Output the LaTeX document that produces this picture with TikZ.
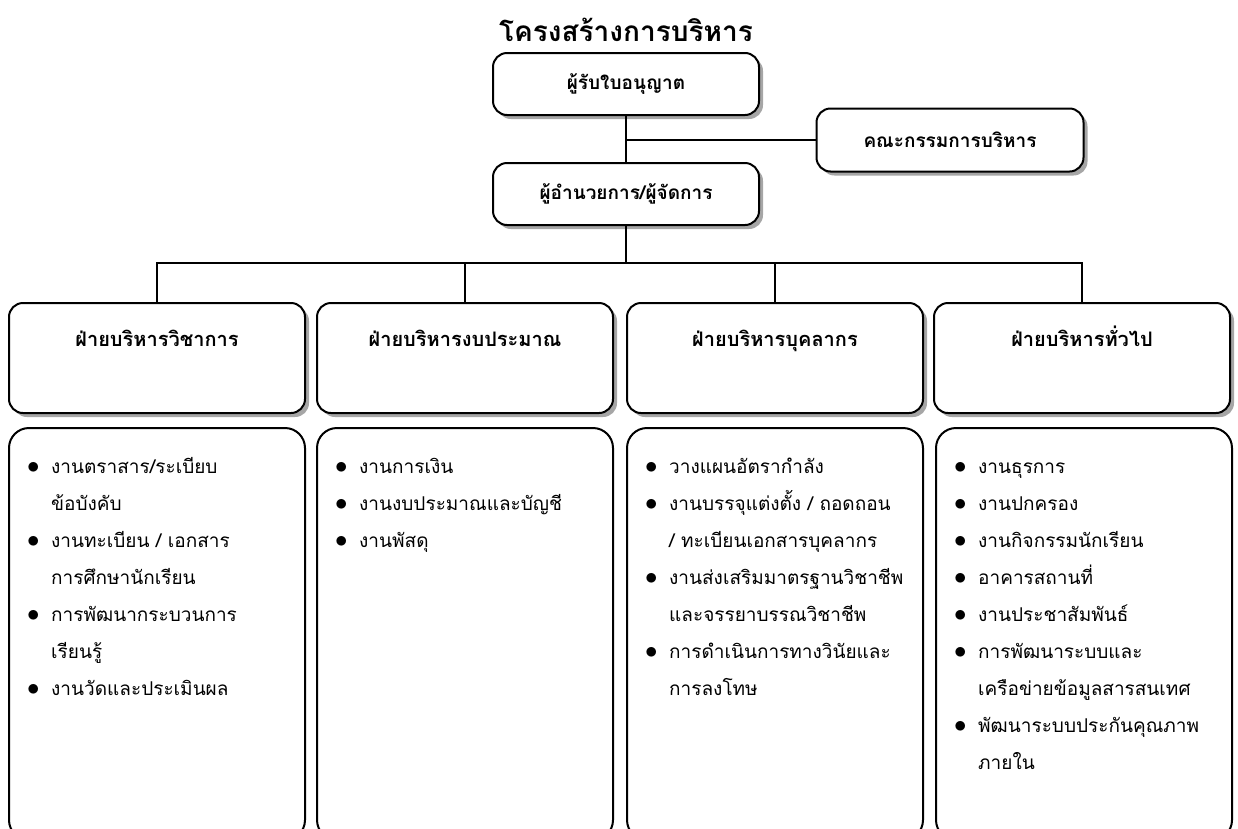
\documentclass[tikz,border=0pt]{standalone}
\usepackage{fontspec}
\setmainfont[Script=Thai]{Loma}
\usetikzlibrary{positioning,shadows}

\newcommand{\bul}{\makebox[24pt][l]{\fontsize{24}{24}\selectfont$\bullet$}}

\begin{document}
\begin{tikzpicture}[x=1pt, y=-1pt,
    box/.style = {draw, line width=2pt, rounded corners=14pt, fill=white,
        drop shadow={shadow xshift=4pt, shadow yshift=-4pt, fill=gray!70, opacity=1},
        font=\fontsize{19}{22}\selectfont\bfseries},
    topbox/.style = {box, minimum width=266pt, minimum height=62pt},
    divbox/.style = {box, minimum width=296pt, minimum height=110pt},
    listbox/.style = {draw, line width=2pt, rounded corners=20pt, minimum width=296pt,
        minimum height=412pt, anchor=north},
    head/.style = {inner sep=0pt, anchor=base, font=\fontsize{20}{24}\selectfont\bfseries},
    items/.style = {inner sep=0pt, align=left, font=\fontsize{19}{37}\selectfont}]
    \useasboundingbox (0,0) rectangle (1238,828);
    % title
    \node[font=\fontsize{28}{32}\selectfont\bfseries] (ttl) at (626,30) {โครงสร้างการบริหาร};
    %% top of the chart
    \node[topbox] (lic) at (626,84) {ผู้รับใบอนุญาต};
    \node[topbox, minimum width=267pt, minimum height=63pt] (board) at (950,140) {คณะกรรมการบริหาร};
    \node[topbox] (dir) at (626,194) {ผู้อำนวยการ/ผู้จัดการ};
    \coordinate (bar) at (626,263);
    %% divisions
    \node[divbox] (d1) at (157,358) {};
    \node[divbox] (d2) at (465,358) {};
    \node[divbox] (d3) at (775,358) {};
    \node[divbox] (d4) at (1082,358) {};
    \node[head, below=44pt of d1.north, anchor=base] (h1) {ฝ่ายบริหารวิชาการ};
    \node[head, below=44pt of d2.north, anchor=base] (h2) {ฝ่ายบริหารงบประมาณ};
    \node[head, below=44pt of d3.north, anchor=base] (h3) {ฝ่ายบริหารบุคลากร};
    \node[head, below=44pt of d4.north, anchor=base] (h4) {ฝ่ายบริหารทั่วไป};
    %% duties
    \node[listbox] (l1) at (157,427) {};
    \node[listbox] (l2) at (465,427) {};
    \node[listbox] (l3) at (775,427) {};
    \node[listbox] (l4) at (1084,427) {};
    \node[items, below right=20pt and 19pt of l1.north west] (t1) {%
        \begin{tabular}{@{}l@{}l@{}}
        \bul & งานตราสาร/ระเบียบ\\
             & ข้อบังคับ\\
        \bul & งานทะเบียน / เอกสาร\\
             & การศึกษานักเรียน\\
        \bul & การพัฒนากระบวนการ\\
             & เรียนรู้\\
        \bul & งานวัดและประเมินผล
        \end{tabular}};
    \node[items, below right=20pt and 19pt of l2.north west] (t2) {%
        \begin{tabular}{@{}l@{}l@{}}
        \bul & งานการเงิน\\
        \bul & งานงบประมาณและบัญชี\\
        \bul & งานพัสดุ
        \end{tabular}};
    \node[items, below right=20pt and 19pt of l3.north west] (t3) {%
        \begin{tabular}{@{}l@{}l@{}}
        \bul & วางแผนอัตรากำลัง\\
        \bul & งานบรรจุแต่งตั้ง / ถอดถอน\\
             & / ทะเบียนเอกสารบุคลากร\\
        \bul & งานส่งเสริมมาตรฐานวิชาชีพ\\
             & และจรรยาบรรณวิชาชีพ\\
        \bul & การดำเนินการทางวินัยและ\\
             & การลงโทษ
        \end{tabular}};
    \node[items, below right=20pt and 19pt of l4.north west] (t4) {%
        \begin{tabular}{@{}l@{}l@{}}
        \bul & งานธุรการ\\
        \bul & งานปกครอง\\
        \bul & งานกิจกรรมนักเรียน\\
        \bul & อาคารสถานที่\\
        \bul & งานประชาสัมพันธ์\\
        \bul & การพัฒนาระบบและ\\
             & เครือข่ายข้อมูลสารสนเทศ\\
        \bul & พัฒนาระบบประกันคุณภาพ\\
             & ภายใน
        \end{tabular}};
    %% lines
    \draw[line width=2pt] (lic.south) -- (dir.north);
    \draw[line width=2pt] (board.west) -- (board.west -| lic.south);
    \draw[line width=2pt] (dir.south) -- (bar);
    \draw[line width=2pt] (d1.north) |- (bar) -| (d4.north);
    \draw[line width=2pt] (d2.north) -- (d2.north |- bar);
    \draw[line width=2pt] (d3.north) -- (d3.north |- bar);
\end{tikzpicture}
\end{document}
